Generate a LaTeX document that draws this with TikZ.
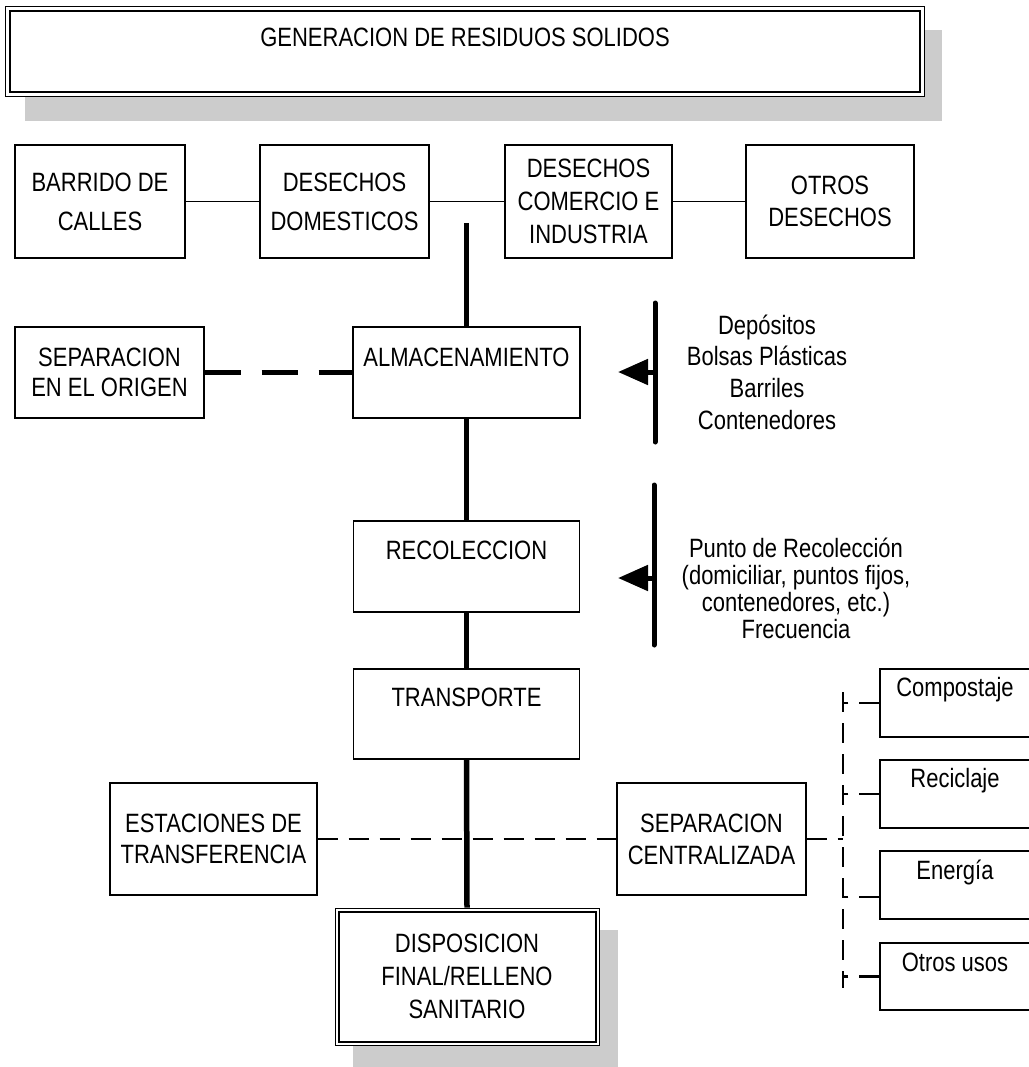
\documentclass[tikz,border=0pt]{standalone}
\usepackage{fontspec}
\setmainfont{Liberation Sans}[FakeStretch=0.83]
\usetikzlibrary{arrows.meta}
\begin{document}
\begin{tikzpicture}[x=1pt,y=-1pt,
  box/.style={draw=black, line width=1.4pt, inner sep=0pt, align=center,
    font=\fontsize{26.5}{32}\selectfont},
  lbl/.style={inner sep=0pt, align=center, font=\fontsize{26.5}{31}\selectfont},
  lblone/.style={inner sep=0pt, font=\fontsize{26.5}{31}\selectfont,
    text height=19pt, text depth=0pt},
  flow/.style={line width=5.5pt},
  link/.style={line width=1.4pt},
  sepdash/.style={line width=4.5pt, dash pattern=on 36pt off 21pt},
  thindash/.style={line width=2.6pt, dash pattern=on 20pt off 11pt},
  shade/.style={fill=black!20, draw=none},
  pointer/.style={line width=5pt, -{Triangle[length=30pt,width=25pt]}},
  bar/.style={line width=5pt, line cap=round}]
\useasboundingbox (0,0) rectangle (1028,1067);

% title block with drop shadow and double frame
\fill[shade] (25,30) rectangle (942,121);
\node[box, fill=white, line width=1pt, minimum width=919pt, minimum height=90pt] (gen) at (464.5,52) {};
\draw[line width=2pt] ([shift={(5pt,-5pt)}]gen.north west) rectangle ([shift={(-5pt,5pt)}]gen.south east);
\node[lblone] (gent) at (465,37) {GENERACION DE RESIDUOS SOLIDOS};

% sources of waste
\node[box, minimum width=170pt, minimum height=113pt, font=\fontsize{26.5}{39}\selectfont] (barr) at (100,201.5) {BARRIDO DE\\CALLES};
\node[box, minimum width=169pt, minimum height=113pt, font=\fontsize{26.5}{39}\selectfont] (dom) at (344.5,201.5) {DESECHOS\\DOMESTICOS};
\node[box, minimum width=167pt, minimum height=113pt, font=\fontsize{26.5}{33}\selectfont] (com) at (588.5,201.5) {DESECHOS\\COMERCIO E\\INDUSTRIA};
\node[box, minimum width=168pt, minimum height=113pt, font=\fontsize{26.5}{32}\selectfont] (otr) at (830,201.5) {OTROS\\DESECHOS};
\draw[link] (barr) -- (dom);
\draw[link] (dom) -- (com);
\draw[link] (com) -- (otr);

% storage
\node[box, minimum width=189pt, minimum height=91pt, font=\fontsize{26.5}{30}\selectfont] (sepo) at (109.5,372.5) {SEPARACION\\EN EL ORIGEN};
\node[box, minimum width=227pt, minimum height=91pt] (alm) at (466.5,372.5) {};
\node[lblone] (almt) at (466.5,357) {ALMACENAMIENTO};
\draw[sepdash] (sepo) -- (alm);
\coordinate (src) at (466.5,223);
\draw[flow] (src) -- (alm.north);

% collection
\node[box, minimum width=226pt, minimum height=91pt] (rec) at (466.5,566.5) {};
\node[lblone] (rect) at (466.5,550) {RECOLECCION};
\draw[flow] (alm.south) -- (rec.north);

% transport
\node[box, minimum width=226pt, minimum height=90pt] (tra) at (466.5,714) {};
\node[lblone] (trat) at (466.5,697) {TRANSPORTE};
\draw[flow] (rec.south) -- (tra.north);

% transfer stations and central separation
\node[box, minimum width=207pt, minimum height=112pt, font=\fontsize{26.5}{31}\selectfont] (est) at (213.5,839) {ESTACIONES DE\\TRANSFERENCIA};
\node[box, minimum width=189pt, minimum height=112pt, font=\fontsize{26.5}{32}\selectfont] (sepc) at (711.5,839) {SEPARACION\\CENTRALIZADA};
\draw[thindash] (est) -- (sepc);

% final disposal with drop shadow and double frame
\fill[shade] (353,930) rectangle (618,1075);
\node[box, fill=white, line width=1pt, minimum width=264pt, minimum height=137pt, font=\fontsize{26.5}{33}\selectfont] (disp) at (467,976.5) {DISPOSICION\\FINAL/RELLENO\\SANITARIO};
\draw[line width=2pt] ([shift={(4pt,-4pt)}]disp.north west) rectangle ([shift={(-4pt,4pt)}]disp.south east);
\draw[flow] (tra.south) -- (disp.north);

% recovery options
\node[box, minimum width=160pt, minimum height=68pt] (comp) at (960,703) {};
\node[box, minimum width=160pt, minimum height=68pt] (reci) at (960,794) {};
\node[box, minimum width=160pt, minimum height=68pt] (ener) at (960,885) {};
\node[box, minimum width=160pt, minimum height=67pt] (otus) at (960,976.5) {};
\node[lblone] (compt) at (955,687) {Compostaje};
\node[lblone] (recit) at (955,778) {Reciclaje};
\node[lblone] (enert) at (955,870) {Energía};
\node[lblone] (otust) at (955,962) {Otros usos};
\coordinate (trk) at (843,839);
\coordinate (trktop) at (843,692);
\coordinate (trkbot) at (843,988);
\draw[thindash] (sepc.east) -- (trk);
\draw[thindash] (trktop) -- (trkbot);
\draw[thindash] (comp.west) -- (comp.west -| trk);
\draw[thindash] (reci.west) -- (reci.west -| trk);
\draw[thindash] ([yshift=-12pt]ener.west) -- ([yshift=-12pt]ener.west -| trk);
\draw[thindash] (otus.west) -- (otus.west -| trk);

% storage means
\coordinate (b1t) at (655,303);
\coordinate (b1b) at (655,442);
\coordinate (b1m) at (655,372);
\coordinate (a1) at (618,372);
\draw[bar] (b1t) -- (b1b);
\draw[pointer] (b1m) -- (a1);
\node[lbl, font=\fontsize{26.5}{31.7}\selectfont] (txt1) at (767,372) {Depósitos\\Bolsas Plásticas\\Barriles\\Contenedores};

% collection details
\coordinate (b2t) at (654,485);
\coordinate (b2b) at (654,645);
\coordinate (b2m) at (654,578);
\coordinate (a2) at (618,578);
\draw[bar] (b2t) -- (b2b);
\draw[pointer] (b2m) -- (a2);
\node[lbl, font=\fontsize{26.5}{27}\selectfont] (txt2) at (796,588) {Punto de Recolección\\(domiciliar, puntos fijos,\\contenedores, etc.)\\Frecuencia};
\end{tikzpicture}
\end{document}
